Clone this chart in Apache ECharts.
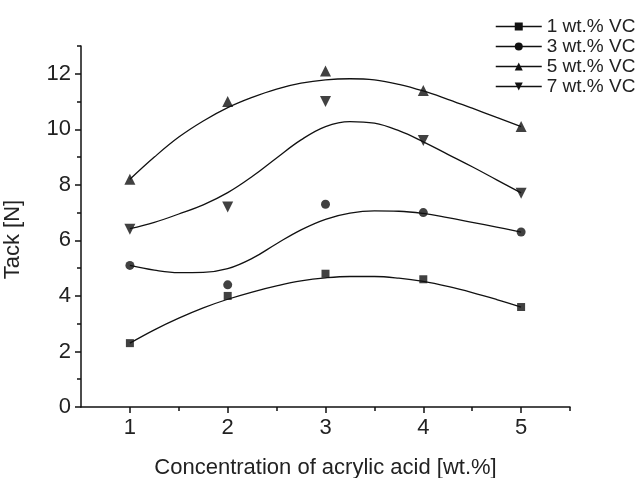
<!DOCTYPE html>
<html>
<head>
<meta charset="utf-8">
<script src="https://cdn.jsdelivr.net/npm/echarts@6/dist/echarts.min.js"></script>
<style>
html,body{margin:0;padding:0;background:#fff;}
#chart{width:642px;height:478px;}
</style>
</head>
<body>
<div id="chart"></div>
<script>
// measured points
const xCats = [1, 2, 3, 4, 5];
const vc1 = [2.3, 4.0, 4.8, 4.6, 3.6];
const vc3 = [5.1, 4.4, 7.3, 7.0, 6.3];
const vc5 = [8.2, 11.0, 12.1, 11.4, 10.1];
const vc7 = [6.4, 7.2, 11.0, 9.6, 7.7];
// fitted curves
const fitX = [1, 1.25, 1.5, 1.75, 2, 2.25, 2.5, 2.75, 3, 3.25, 3.5, 3.75, 4, 4.25, 4.5, 4.75, 5];
const fit1 = [2.3, 2.78, 3.2, 3.57, 3.88, 4.14, 4.36, 4.54, 4.65, 4.7, 4.7, 4.64, 4.52, 4.34, 4.12, 3.87, 3.6];
const fit3 = [5.1, 4.93, 4.84, 4.85, 4.98, 5.35, 5.88, 6.38, 6.76, 6.98, 7.06, 7.05, 6.97, 6.82, 6.65, 6.48, 6.3];
const fit5 = [8.2, 9.0, 9.72, 10.3, 10.78, 11.15, 11.45, 11.66, 11.78, 11.82, 11.78, 11.62, 11.38, 11.08, 10.76, 10.43, 10.1];
const fit7 = [6.42, 6.65, 6.95, 7.28, 7.72, 8.3, 8.97, 9.62, 10.1, 10.28, 10.22, 9.95, 9.55, 9.1, 8.65, 8.18, 7.71];
const names = ['1 wt.% VC', '3 wt.% VC', '5 wt.% VC', '7 wt.% VC'];
const yMajor = [0, 2, 4, 6, 8, 10, 12];
const yMinor = [1, 3, 5, 7, 9, 11, 13];
const xMinor = [1.5, 2.5, 3.5, 4.5, 5.5];

const FONT = 'Liberation Sans, Arial, Helvetica, sans-serif';
const INK = '#111';
const symbols = ['rect', 'circle', 'triangle', 'path://M0,0 L10,0 L5,9 Z'];
const sizes = [8, 9, 11, 11];
const pts = [vc1, vc3, vc5, vc7];
const fits = [fit1, fit3, fit5, fit7];

const series = [];
names.forEach((n, i) => {
  series.push({
    type: 'line', name: n, smooth: 0.4, showSymbol: false,
    symbol: symbols[i], symbolSize: sizes[i],
    data: fitX.map((x, j) => [x, fits[i][j]]),
    lineStyle: { color: INK, width: 1.3 }, itemStyle: { color: INK },
    silent: true, z: 2
  });
});
names.forEach((n, i) => {
  series.push({
    type: 'scatter', name: n, symbol: symbols[i], symbolSize: sizes[i],
    data: xCats.map((x, j) => [x, pts[i][j]]),
    itemStyle: { color: INK }, z: 3
  });
});

const axisLineStyle = { color: INK, width: 1.5 };
const chart = echarts.init(document.getElementById('chart'), null, { renderer: 'canvas' });
chart.setOption({
  animation: false,
  backgroundColor: '#fff',
  textStyle: { fontFamily: FONT },
  grid: { left: 81, right: 72, top: 46, bottom: 71, containLabel: false, outerBoundsMode: 'none' },
  legend: {
    data: names, orient: 'vertical', left: 490, top: 12,
    itemWidth: 46, itemHeight: 10, itemGap: 1,
    textStyle: { fontFamily: FONT, fontSize: 19, color: '#222' },
    lineStyle: { width: 1.5 },
    inactiveColor: INK
  },
  xAxis: [{
    type: 'value', min: 0.5, max: 5.5, position: 'bottom',
    axisLine: { show: true, onZero: false, lineStyle: axisLineStyle },
    axisTick: { show: true, inside: false, length: 6, customValues: xCats, lineStyle: axisLineStyle },
    axisLabel: { customValues: xCats, fontSize: 22, margin: 10, color: '#222', fontFamily: FONT },
    splitLine: { show: false },
    name: 'Concentration of acrylic acid [wt.%]', nameLocation: 'middle', nameGap: 50,
    nameTextStyle: { fontSize: 22, color: '#222', fontFamily: FONT }
  }, {
    type: 'value', min: 0.5, max: 5.5, position: 'bottom', offset: 0,
    axisLine: { show: false },
    axisTick: { show: true, inside: false, length: 4, customValues: xMinor, lineStyle: axisLineStyle },
    axisLabel: { show: false }, splitLine: { show: false }
  }],
  yAxis: [{
    type: 'value', min: 0, max: 13, position: 'left',
    axisLine: { show: true, onZero: false, lineStyle: axisLineStyle },
    axisTick: { show: true, inside: false, length: 6, customValues: yMajor, lineStyle: axisLineStyle },
    axisLabel: { customValues: yMajor, fontSize: 22, margin: 10, color: '#222', fontFamily: FONT },
    splitLine: { show: false },
    name: 'Tack [N]', nameLocation: 'middle', nameGap: 57,
    nameTextStyle: { fontSize: 22, color: '#222', fontFamily: FONT, padding: [0, 26, 0, 0] }
  }, {
    type: 'value', min: 0, max: 13, position: 'left', offset: 0,
    axisLine: { show: false },
    axisTick: { show: true, inside: false, length: 4, customValues: yMinor, lineStyle: axisLineStyle },
    axisLabel: { show: false }, splitLine: { show: false }
  }],
  series: series
});
</script>
</body>
</html>
